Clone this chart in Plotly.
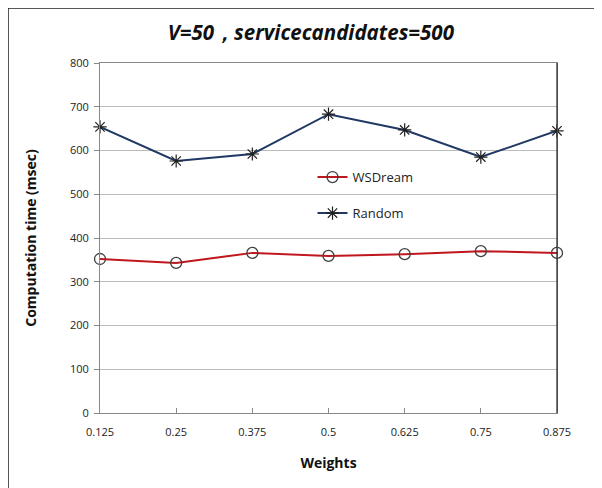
import plotly.graph_objects as go

weights = [0.125, 0.25, 0.375, 0.5, 0.625, 0.75, 0.875]
weight_labels = ["0.125", "0.25", "0.375", "0.5", "0.625", "0.75", "0.875"]
wsdream = [352, 343, 366, 359, 363, 370, 366]
random_vals = [654, 576, 592, 683, 647, 585, 645]
y_ticks = [0, 100, 200, 300, 400, 500, 600, 700, 800]

FONT = "Open Sans"

fig = go.Figure()
fig.add_trace(go.Scatter(
    x=weights, y=wsdream, name="WSDream", mode="lines+markers",
    line=dict(color="#C0161E", width=2),
    marker=dict(symbol="circle-open", size=11, color="#404040", line=dict(width=1.3)),
    cliponaxis=False, legend="legend",
))
fig.add_trace(go.Scatter(
    x=weights, y=random_vals, name="Random", mode="lines+markers",
    line=dict(color="#1F3864", width=2),
    marker=dict(symbol="asterisk-open", size=11, color="#202020", line=dict(width=1.2)),
    cliponaxis=False, legend="legend2",
))

fig.update_layout(
    width=602, height=488,
    margin=dict(l=92, r=53, t=55, b=83),
    paper_bgcolor="white", plot_bgcolor="white",
    font=dict(family=FONT, color="#222222"),
    title=dict(text="<b><i>V=50，servicecandidates=500</i></b>", x=0.503, xanchor="center",
               y=1 - 25 / 488, yanchor="middle", font=dict(size=20.5, color="#111111")),
    xaxis=dict(
        range=[0.125, 0.875], tickvals=weights, ticktext=weight_labels,
        showgrid=False, showline=True, linecolor="#888888", linewidth=1,
        mirror=True, ticks="inside", ticklen=5, tickcolor="#888888",
        tickfont=dict(size=11, color="#222222"), zeroline=False, ticklabelstandoff=9,
        title=dict(text="<b>Weights</b>", font=dict(size=14, color="#111111"), standoff=19),
    ),
    yaxis=dict(
        range=[0, 800], tickvals=y_ticks, showgrid=True, gridcolor="#BBBBBB",
        showline=True, linecolor="#888888", linewidth=1, mirror=True,
        ticks="outside", ticklen=5, tickcolor="#888888",
        tickfont=dict(size=11, color="#222222"), zeroline=False, ticklabelstandoff=3,
        title=dict(text="<b>Computation time (msec)</b>", font=dict(size=14, color="#111111"), standoff=30),
    ),
    legend=dict(x=0.465, y=0.674, xanchor="left", yanchor="middle",
                bgcolor="rgba(0,0,0,0)", font=dict(size=13, color="#222222")),
    legend2=dict(x=0.465, y=0.571, xanchor="left", yanchor="middle",
                 bgcolor="rgba(0,0,0,0)", font=dict(size=13, color="#222222")),
    showlegend=True,
    shapes=[
        dict(type="rect", xref="paper", yref="paper",
             x0=-0.2013, x1=1.0897, y0=-0.25, y1=1.157,
             line=dict(color="#222222", width=1.5), layer="below"),
        dict(type="line", xref="paper", yref="paper",
             x0=1, x1=1, y0=0, y1=1, line=dict(color="#222222", width=1.2)),
    ],
)

fig.write_html("out.html")
